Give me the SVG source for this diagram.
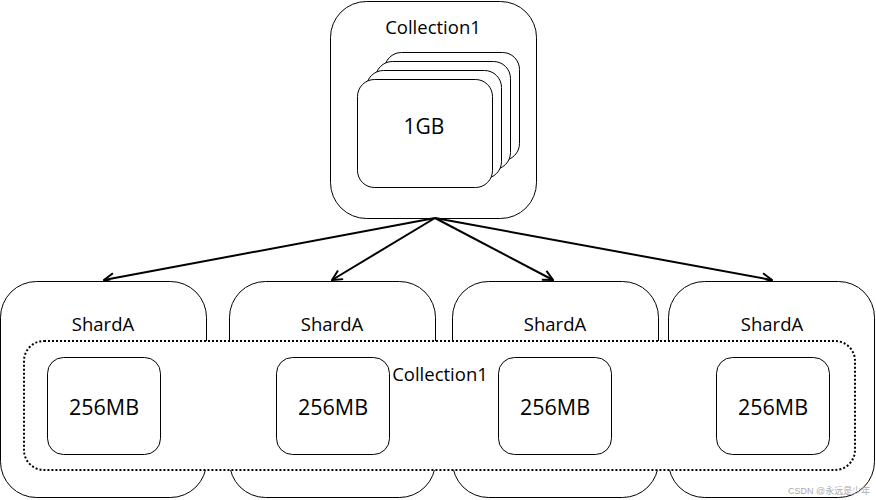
<svg xmlns="http://www.w3.org/2000/svg" width="876" height="500" viewBox="0 0 876 500">
<defs>
<style>
.box{fill:#fff;stroke:#000;stroke-width:1}
.t{font-family:"Open Sans","Noto Sans",sans-serif;fill:#000;text-anchor:middle}
.lbl{font-size:18.5px}
.big{font-size:21.5px}
.conn{stroke:#000;stroke-width:2;fill:none;marker-end:url(#arr)}
</style>
<marker id="arr" viewBox="0 0 12 12" refX="11" refY="6" markerWidth="6" markerHeight="6" orient="auto" markerUnits="strokeWidth">
<polyline points="1,1 11,6 1,11" fill="none" stroke="#000" stroke-width="2"/>
</marker>
</defs>
<rect width="876" height="500" fill="#fff"/>
<g id="collection-top">
<rect class="box" x="330.5" y="1.5" width="206" height="217" rx="36"/>
<text class="t lbl" x="433" y="34">Collection1</text>
<rect class="box" x="384.5" y="52.5" width="135" height="108" rx="17"/>
<rect class="box" x="375.5" y="61.5" width="135" height="108" rx="17"/>
<rect class="box" x="366.5" y="70.5" width="135" height="108" rx="17"/>
<rect class="box" x="357.5" y="79.5" width="135" height="108" rx="17"/>
<text class="t" style="font-size:21px" x="424" y="134">1GB</text>
</g>
<g id="connectors">
<line class="conn" x1="435" y1="218" x2="104" y2="280"/>
<line class="conn" x1="435" y1="218" x2="332" y2="280"/>
<line class="conn" x1="435" y1="218" x2="553" y2="280"/>
<line class="conn" x1="435" y1="218" x2="772" y2="280"/>
</g>
<g id="shard1"><rect class="box" x="0.5" y="281.5" width="206" height="216" rx="36"/><text class="t lbl" x="103" y="331">ShardA</text></g>
<g id="shard2"><rect class="box" x="229.5" y="281.5" width="206" height="216" rx="36"/><text class="t lbl" x="332" y="331">ShardA</text></g>
<g id="shard3"><rect class="box" x="452.5" y="281.5" width="206" height="216" rx="36"/><text class="t lbl" x="555" y="331">ShardA</text></g>
<g id="shard4"><rect class="box" x="668.5" y="281.5" width="206" height="216" rx="36"/><text class="t lbl" x="772" y="331">ShardA</text></g>
<g id="collection-dist">
<rect x="24" y="341" width="831" height="129" rx="20" fill="#fff" stroke="#000" stroke-width="2" stroke-dasharray="2,2"/>
<text class="t lbl" x="440" y="381">Collection1</text>
</g>
<g id="chunk1"><rect class="box" x="47.5" y="357.5" width="113" height="97" rx="16"/><text class="t big" x="104" y="415">256MB</text></g>
<g id="chunk2"><rect class="box" x="276.5" y="357.5" width="113" height="97" rx="16"/><text class="t big" x="333" y="415">256MB</text></g>
<g id="chunk3"><rect class="box" x="498.5" y="357.5" width="113" height="97" rx="16"/><text class="t big" x="555" y="415">256MB</text></g>
<g id="chunk4"><rect class="box" x="716.5" y="357.5" width="113" height="97" rx="16"/><text class="t big" x="773" y="415">256MB</text></g>
<text x="788" y="494" style="font-family:'Liberation Sans','Noto Sans CJK SC',sans-serif;font-size:9px;fill:#aaa">CSDN @永远是少年</text>
</svg>
